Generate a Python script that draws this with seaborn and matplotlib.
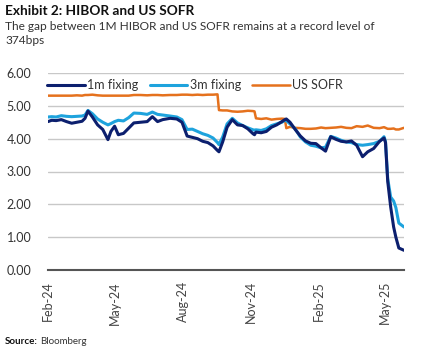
import matplotlib
matplotlib.use("Agg")
import matplotlib.pyplot as plt
import matplotlib.dates as mdates
import pandas as pd
import seaborn as sns

dates = ["2024-02-01", "2024-02-06", "2024-02-12", "2024-02-19", "2024-02-26", "2024-03-04",
         "2024-03-11", "2024-03-18", "2024-03-22", "2024-03-26", "2024-04-01", "2024-04-08",
         "2024-04-15", "2024-04-22", "2024-04-26", "2024-05-01", "2024-05-06", "2024-05-13",
         "2024-05-20", "2024-05-27", "2024-06-05", "2024-06-14", "2024-06-21", "2024-06-28",
         "2024-07-05", "2024-07-15", "2024-07-24", "2024-07-31", "2024-08-07", "2024-08-14",
         "2024-08-21", "2024-08-28", "2024-09-04", "2024-09-11", "2024-09-17", "2024-09-19",
         "2024-09-24", "2024-09-30", "2024-10-07", "2024-10-14", "2024-10-21", "2024-10-28",
         "2024-11-04", "2024-11-06", "2024-11-08", "2024-11-15", "2024-11-22", "2024-11-29",
         "2024-12-06", "2024-12-13", "2024-12-17", "2024-12-19", "2024-12-24", "2024-12-31",
         "2025-01-07", "2025-01-14", "2025-01-21", "2025-01-28", "2025-02-04", "2025-02-10",
         "2025-02-17", "2025-02-24", "2025-03-03", "2025-03-10", "2025-03-17", "2025-03-24",
         "2025-04-01", "2025-04-08", "2025-04-16", "2025-04-24", "2025-04-30", "2025-05-02",
         "2025-05-05", "2025-05-09", "2025-05-13", "2025-05-16", "2025-05-20", "2025-05-27"]

hibor_1m = [4.52, 4.56, 4.55, 4.58, 4.52, 4.47, 4.50, 4.53, 4.62, 4.84, 4.66, 4.42,
            4.28, 3.97, 4.22, 4.38, 4.12, 4.16, 4.32, 4.48, 4.50, 4.52, 4.67, 4.52,
            4.58, 4.62, 4.60, 4.50, 4.08, 4.04, 4.00, 3.92, 3.88, 3.78, 3.64, 3.60,
            3.90, 4.35, 4.58, 4.42, 4.40, 4.30, 4.15, 4.12, 4.20, 4.18, 4.22, 4.35,
            4.42, 4.52, 4.58, 4.60, 4.50, 4.28, 4.08, 3.93, 3.86, 3.85, 3.72, 3.62,
            4.06, 3.98, 3.92, 3.90, 3.93, 3.80, 3.45, 3.60, 3.70, 3.92, 4.02, 3.88,
            2.70, 1.92, 1.31, 1.00, 0.67, 0.60]

hibor_3m = [4.66, 4.67, 4.66, 4.70, 4.68, 4.67, 4.68, 4.69, 4.72, 4.86, 4.76, 4.60,
            4.50, 4.42, 4.46, 4.52, 4.56, 4.54, 4.64, 4.78, 4.77, 4.74, 4.81, 4.74,
            4.72, 4.69, 4.66, 4.58, 4.28, 4.29, 4.22, 4.15, 4.10, 4.02, 3.88, 3.82,
            4.05, 4.45, 4.62, 4.48, 4.40, 4.33, 4.27, 4.26, 4.27, 4.25, 4.30, 4.40,
            4.45, 4.50, 4.56, 4.55, 4.45, 4.30, 4.05, 3.90, 3.80, 3.77, 3.72, 3.74,
            4.07, 4.02, 3.95, 3.90, 3.88, 3.82, 3.80, 3.82, 3.85, 3.92, 4.06, 3.92,
            2.78, 2.22, 2.10, 1.90, 1.43, 1.31]

us_sofr = [5.31, 5.31, 5.31, 5.31, 5.31, 5.31, 5.32, 5.31, 5.33, 5.33, 5.34, 5.32,
           5.31, 5.31, 5.31, 5.31, 5.31, 5.31, 5.31, 5.33, 5.33, 5.32, 5.33, 5.33,
           5.32, 5.33, 5.33, 5.34, 5.34, 5.33, 5.34, 5.33, 5.34, 5.34, 5.35, 4.87,
           4.86, 4.86, 4.83, 4.82, 4.83, 4.85, 4.84, 4.83, 4.62, 4.60, 4.62, 4.58,
           4.60, 4.61, 4.60, 4.32, 4.36, 4.33, 4.32, 4.30, 4.30, 4.31, 4.34, 4.32,
           4.33, 4.34, 4.36, 4.33, 4.32, 4.38, 4.36, 4.40, 4.33, 4.32, 4.35, 4.33,
           4.30, 4.30, 4.31, 4.28, 4.28, 4.33]

series_names = ["1m fixing", "3m fixing", "US SOFR"]
y_ticks = [0, 1, 2, 3, 4, 5, 6]
x_ticks = ["2024-02-01", "2024-05-01", "2024-08-01", "2024-11-01", "2025-02-01", "2025-05-01"]

title = "Exhibit 2: HIBOR and US SOFR"
subtitle = "The gap between 1M HIBOR and US SOFR remains at a record level of\n374bps"

sns.set_theme(style="white")
plt.rcParams["font.family"] = ["Lato", "DejaVu Sans"]

df = pd.DataFrame({"date": pd.to_datetime(dates), "1m fixing": hibor_1m,
                   "3m fixing": hibor_3m, "US SOFR": us_sofr})

colors = {"1m fixing": "#0c1f6e", "3m fixing": "#1ea3dd", "US SOFR": "#e5711d"}
widths = {"1m fixing": 2.2, "3m fixing": 2.2, "US SOFR": 1.8}
zorders = {"1m fixing": 4, "3m fixing": 3, "US SOFR": 2}

fig = plt.figure(figsize=(4.34, 3.49), dpi=100)
ax = fig.add_axes([48 / 434, 1 - 270 / 349, 356 / 434, 197 / 349])

for name in series_names:
    sns.lineplot(data=df, x="date", y=name, ax=ax, color=colors[name],
                 linewidth=widths[name], label=name, zorder=zorders[name])

ax.set_ylim(0, 6)
ax.set_xlim(pd.Timestamp(dates[0]), pd.Timestamp(dates[-1]))
ax.set_yticks(y_ticks)
ax.set_yticklabels([f"{v:.2f}" for v in y_ticks], fontsize=9, color="#333333")
ax.set_xticks(pd.to_datetime(x_ticks))
ax.xaxis.set_major_formatter(mdates.DateFormatter("%b-%y"))
plt.setp(ax.get_xticklabels(), rotation=90, fontsize=9, color="#444444")
ax.tick_params(axis="both", length=0)
ax.tick_params(axis="y", pad=12)
ax.tick_params(axis="x", pad=8)
ax.set_xlabel("")
ax.set_ylabel("")

ax.grid(axis="y", color="#c8c8c8", linewidth=1.0, zorder=0)
ax.grid(axis="x", visible=False)
for s in ["left", "right", "top"]:
    ax.spines[s].set_visible(False)
ax.spines["bottom"].set_color("#555555")
ax.spines["bottom"].set_linewidth(1.5)
ax.set_axisbelow(True)

leg = ax.legend(loc="upper left", bbox_to_anchor=(-0.02, 1.0), ncol=3, frameon=False,
                fontsize=9, handlelength=3.0, handletextpad=0.2, columnspacing=0.9,
                borderaxespad=0.1)
for t in leg.get_texts():
    t.set_color("#333333")

fig.text(5 / 434, 1 - 5 / 349, title, fontsize=9.8, fontweight="bold", va="top",
         ha="left", color="#111111")
fig.text(5 / 434, 1 - 21 / 349, subtitle, fontsize=8.6, va="top", ha="left",
         color="#333333", linespacing=1.3)
src = fig.text(5 / 434, 1 - 341 / 349, "Source:", fontsize=7, fontweight="bold",
               va="center", ha="left", color="#111111")
fig.canvas.draw()
bb = src.get_window_extent(renderer=fig.canvas.get_renderer())
fig.text((bb.x1 + 2) / 434, 1 - 341 / 349, "Bloomberg", fontsize=7, va="center",
         ha="left", color="#333333")

fig.savefig("out.png", dpi=100)
